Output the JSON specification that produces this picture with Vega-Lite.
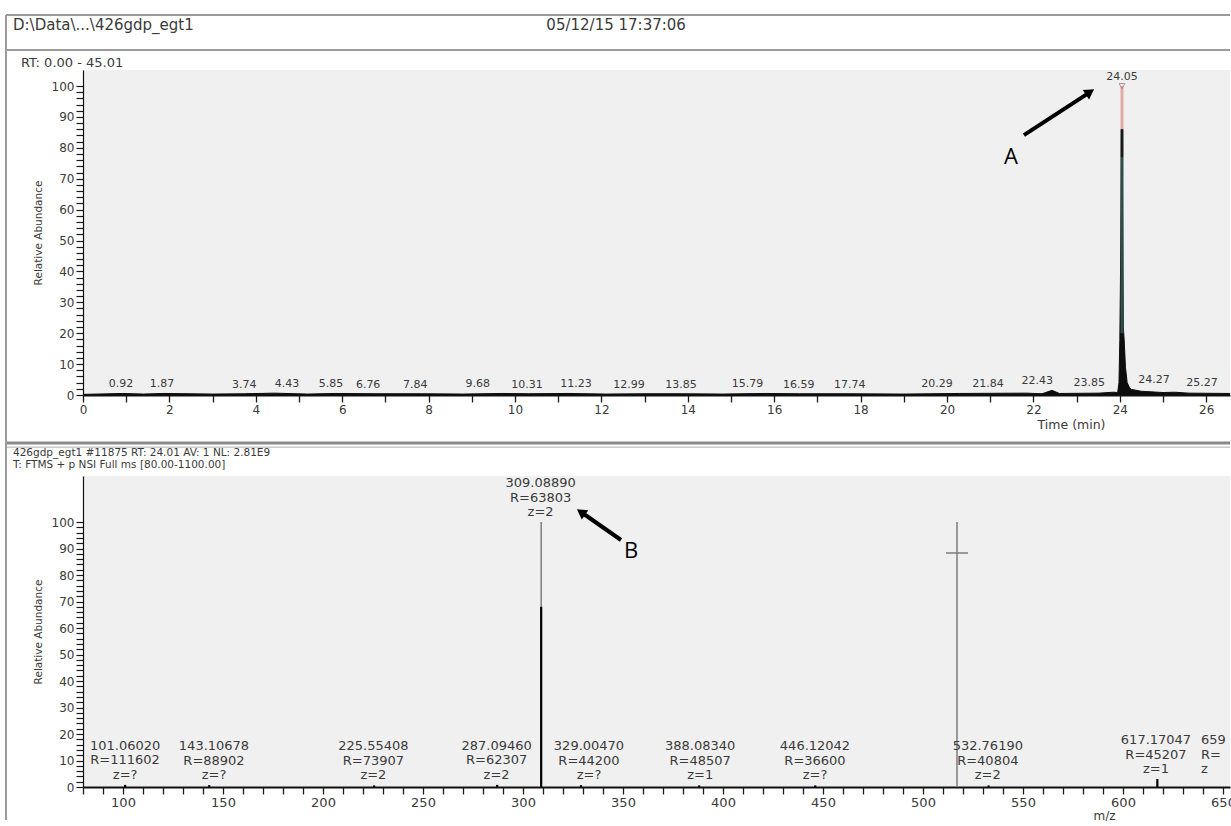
{
  "$schema": "https://vega.github.io/schema/vega-lite/v6.json",
  "usermeta": {"embedOptions": {"actions": false}},
  "background": "white",
  "padding": {"left": 4, "top": 14, "right": -4, "bottom": 0},
  "autosize": {"type": "pad"},
  "bounds": "flush",
  "spacing": 81,
  "config": {
    "view": {"fill": "#f0f0f0", "stroke": null},
    "font": "DejaVu Sans",
    "axis": {"labelFont": "DejaVu Sans", "titleFont": "DejaVu Sans", "labelColor": "#3a3a3a", "titleColor": "#3a3a3a", "titleFontWeight": "normal", "tickColor": "#1a1a1a", "domainColor": "#111111", "grid": false, "labelOverlap": false, "labelFlush": false, "labelBound": false}
  },
  "resolve": {"scale": {"x": "independent", "y": "independent", "color": "independent"}},
  "datasets": {
    "one": [{}],
    "chromatogram": [
      {"time": 0, "abundance": 0.2}, {"time": 0.92, "abundance": 0.5}, {"time": 1.4, "abundance": 0.3}, {"time": 1.87, "abundance": 0.5},
      {"time": 3.0, "abundance": 0.3}, {"time": 3.74, "abundance": 0.4}, {"time": 4.43, "abundance": 0.6}, {"time": 5.2, "abundance": 0.3},
      {"time": 5.85, "abundance": 0.5}, {"time": 6.76, "abundance": 0.4}, {"time": 7.84, "abundance": 0.4}, {"time": 8.8, "abundance": 0.3},
      {"time": 9.68, "abundance": 0.5}, {"time": 10.31, "abundance": 0.4}, {"time": 11.23, "abundance": 0.5}, {"time": 12.1, "abundance": 0.3},
      {"time": 12.99, "abundance": 0.4}, {"time": 13.85, "abundance": 0.4}, {"time": 14.8, "abundance": 0.3}, {"time": 15.79, "abundance": 0.5},
      {"time": 16.59, "abundance": 0.4}, {"time": 17.74, "abundance": 0.4}, {"time": 19.0, "abundance": 0.3}, {"time": 20.29, "abundance": 0.5},
      {"time": 21.84, "abundance": 0.6}, {"time": 22.2, "abundance": 0.4}, {"time": 22.43, "abundance": 1.5}, {"time": 22.6, "abundance": 0.5},
      {"time": 23.5, "abundance": 0.6}, {"time": 23.85, "abundance": 0.9}, {"time": 23.95, "abundance": 0.8}, {"time": 23.98, "abundance": 4},
      {"time": 24.0, "abundance": 18}, {"time": 24.02, "abundance": 45}, {"time": 24.04, "abundance": 88}, {"time": 24.05, "abundance": 100},
      {"time": 24.06, "abundance": 70}, {"time": 24.08, "abundance": 22}, {"time": 24.1, "abundance": 18}, {"time": 24.13, "abundance": 9},
      {"time": 24.17, "abundance": 4}, {"time": 24.22, "abundance": 2.5}, {"time": 24.27, "abundance": 1.8}, {"time": 24.5, "abundance": 1.2},
      {"time": 25.0, "abundance": 0.8}, {"time": 25.27, "abundance": 0.9}, {"time": 25.6, "abundance": 0.6}, {"time": 26.55, "abundance": 0.5}
    ],
    "chromLabels": [
      {"time": 0.92, "labelAt": 0.88, "abundance": 0.5, "label": "0.92"}, {"time": 1.87, "labelAt": 1.83, "abundance": 0.5, "label": "1.87"},
      {"time": 3.74, "labelAt": 3.73, "abundance": 0.4, "label": "3.74"}, {"time": 4.43, "labelAt": 4.72, "abundance": 0.6, "label": "4.43"},
      {"time": 5.85, "labelAt": 5.74, "abundance": 0.5, "label": "5.85"}, {"time": 6.76, "labelAt": 6.6, "abundance": 0.4, "label": "6.76"},
      {"time": 7.84, "labelAt": 7.69, "abundance": 0.4, "label": "7.84"}, {"time": 9.68, "labelAt": 9.14, "abundance": 0.5, "label": "9.68"},
      {"time": 10.31, "labelAt": 10.28, "abundance": 0.4, "label": "10.31"}, {"time": 11.23, "labelAt": 11.41, "abundance": 0.5, "label": "11.23"},
      {"time": 12.99, "labelAt": 12.64, "abundance": 0.4, "label": "12.99"}, {"time": 13.85, "labelAt": 13.84, "abundance": 0.4, "label": "13.85"},
      {"time": 15.79, "labelAt": 15.38, "abundance": 0.5, "label": "15.79"}, {"time": 16.59, "labelAt": 16.57, "abundance": 0.4, "label": "16.59"},
      {"time": 17.74, "labelAt": 17.75, "abundance": 0.4, "label": "17.74"}, {"time": 20.29, "labelAt": 19.77, "abundance": 0.5, "label": "20.29"},
      {"time": 21.84, "labelAt": 20.95, "abundance": 0.6, "label": "21.84"}, {"time": 22.43, "labelAt": 22.09, "abundance": 1.5, "label": "22.43"},
      {"time": 23.85, "labelAt": 23.29, "abundance": 0.9, "label": "23.85"}, {"time": 24.05, "labelAt": 24.05, "abundance": 100, "label": "24.05"},
      {"time": 24.27, "labelAt": 24.79, "abundance": 1.8, "label": "24.27"}, {"time": 25.27, "labelAt": 25.9, "abundance": 0.9, "label": "25.27"}
    ],
    "apexSegments": [
      {"time": 24.05, "lo": 86, "hi": 100, "part": "apex"},
      {"time": 24.05, "lo": 77, "hi": 86, "part": "shoulder"},
      {"time": 24.05, "lo": 20, "hi": 77, "part": "body"}
    ],
    "spectrumProfile": [
      {"mz": 309.0889, "intensity": 100},
      {"mz": 517, "intensity": 100}
    ],
    "spectrumSticks": [
      {"mz": 101.0602, "intensity": 0.8}, {"mz": 143.10678, "intensity": 0.7}, {"mz": 225.55408, "intensity": 0.6},
      {"mz": 287.0946, "intensity": 0.8}, {"mz": 309.0889, "intensity": 68}, {"mz": 329.0047, "intensity": 0.7},
      {"mz": 388.0834, "intensity": 0.6}, {"mz": 446.12042, "intensity": 0.6}, {"mz": 532.7619, "intensity": 0.6},
      {"mz": 617.17047, "intensity": 3}
    ],
    "spectrumLabels": [
      {"mz": 101.0602, "labelAt": 101.06, "anchor": 0.8, "label": "101.06020\nR=111602\nz=?"},
      {"mz": 143.10678, "labelAt": 145.5, "anchor": 0.7, "label": "143.10678\nR=88902\nz=?"},
      {"mz": 225.55408, "labelAt": 225.2, "anchor": 0.6, "label": "225.55408\nR=73907\nz=2"},
      {"mz": 287.0946, "labelAt": 286.8, "anchor": 0.8, "label": "287.09460\nR=62307\nz=2"},
      {"mz": 309.0889, "labelAt": 308.8, "anchor": 100, "label": "309.08890\nR=63803\nz=2"},
      {"mz": 329.0047, "labelAt": 333, "anchor": 0.7, "label": "329.00470\nR=44200\nz=?"},
      {"mz": 388.0834, "labelAt": 388.6, "anchor": 0.6, "label": "388.08340\nR=48507\nz=1"},
      {"mz": 446.12042, "labelAt": 446, "anchor": 0.6, "label": "446.12042\nR=36600\nz=?"},
      {"mz": 532.7619, "labelAt": 532.4, "anchor": 0.6, "label": "532.76190\nR=40804\nz=2"},
      {"mz": 617.17047, "labelAt": 616.5, "anchor": 3, "label": "617.17047\nR=45207\nz=1"}
    ],
    "edgeLabels": [
      {"mz": 639, "anchor": 3, "label": "659\nR=\nz"}
    ]
  },
  "vconcat": [
    {
      "width": 1147,
      "height": 325,
      "layer": [
        {"data": {"name": "chromatogram"}, "mark": {"type": "area", "color": "#0d0d0d", "interpolate": "linear"},
         "encoding": {
           "x": {"field": "time", "type": "quantitative", "scale": {"domain": [0, 26.55], "nice": false, "zero": false},
             "axis": {
               "values": [0,0.5,1,1.5,2,2.5,3,3.5,4,4.5,5,5.5,6,6.5,7,7.5,8,8.5,9,9.5,10,10.5,11,11.5,12,12.5,13,13.5,14,14.5,15,15.5,16,16.5,17,17.5,18,18.5,19,19.5,20,20.5,21,21.5,22,22.5,23,23.5,24,24.5,25,25.5,26,26.5],
               "tickCount": 1000,
               "format": "d",
               "labelExpr": "datum.value % 2 === 0 ? datum.label : ''",
               "tickSize": 7,
               "encode": {"ticks": {"update": {"y2": {"signal": "datum.value % 2 === 0 ? 7 : 4"}}}},
               "tickWidth": 1.3, "domainWidth": 2, "labelFontSize": 12, "labelPadding": 2,
               "title": "Time (min)", "titleFontSize": 12.5, "titleX": 988, "titlePadding": 3
             }},
           "y": {"field": "abundance", "type": "quantitative", "scale": {"domain": [0, 105.2], "nice": false},
             "axis": {
               "values": [0,2,4,6,8,10,12,14,16,18,20,22,24,26,28,30,32,34,36,38,40,42,44,46,48,50,52,54,56,58,60,62,64,66,68,70,72,74,76,78,80,82,84,86,88,90,92,94,96,98,100],
               "tickCount": 1000,
               "format": "d",
               "labelExpr": "datum.value % 10 === 0 ? datum.label : ''",
               "tickSize": 7,
               "encode": {"ticks": {"update": {"x2": {"signal": "datum.value % 10 === 0 ? -7 : -4"}}}},
               "tickWidth": 1.2, "domainWidth": 1.2, "labelFontSize": 12, "labelPadding": 2,
               "title": "Relative Abundance", "titleFontSize": 10.5, "titlePadding": 8
             }}
         }},
        {"data": {"name": "one"}, "mark": {"type": "rule", "color": "#9b9b9b", "strokeWidth": 2},
         "encoding": {"x": {"datum": -1.782, "type": "quantitative"}, "x2": {"datum": 26.55}, "y": {"datum": 122.98, "type": "quantitative"}}},
        {"data": {"name": "one"}, "mark": {"type": "rule", "color": "#9b9b9b", "strokeWidth": 2},
         "encoding": {"x": {"datum": -1.782, "type": "quantitative"}, "x2": {"datum": 26.55}, "y": {"datum": 111.65, "type": "quantitative"}}},
        {"data": {"name": "one"}, "mark": {"type": "rule", "color": "#8a8a8a", "strokeWidth": 3},
         "encoding": {"x": {"datum": -1.782, "type": "quantitative"}, "x2": {"datum": 26.55}, "y": {"datum": -15.53, "type": "quantitative"}}},
        {"data": {"name": "one"}, "mark": {"type": "rule", "color": "#cacaca", "strokeWidth": 1.5},
         "encoding": {"x": {"datum": -1.782, "type": "quantitative"}, "x2": {"datum": 26.55}, "y": {"datum": -16.9, "type": "quantitative"}}},
        {"data": {"name": "one"}, "mark": {"type": "rule", "color": "#9b9b9b", "strokeWidth": 2},
         "encoding": {"x": {"datum": -1.782, "type": "quantitative"}, "y": {"datum": 122.98, "type": "quantitative"}, "y2": {"datum": -137.54}}},
        {"data": {"name": "one"}, "mark": {"type": "text", "text": "D:\\Data\\...\\426gdp_egt1", "align": "left", "baseline": "middle", "fontSize": 15, "font": "DejaVu Sans", "color": "#3a3a3a"},
         "encoding": {"x": {"datum": -1.62, "type": "quantitative"}, "y": {"datum": 119.74, "type": "quantitative"}}},
        {"data": {"name": "one"}, "mark": {"type": "text", "text": "05/12/15 17:37:06", "align": "center", "baseline": "middle", "fontSize": 15, "font": "DejaVu Sans", "color": "#3a3a3a"},
         "encoding": {"x": {"datum": 12.34, "type": "quantitative"}, "y": {"datum": 119.74, "type": "quantitative"}}},
        {"data": {"name": "one"}, "mark": {"type": "text", "text": "RT: 0.00 - 45.01", "align": "left", "baseline": "middle", "fontSize": 13, "font": "DejaVu Sans", "color": "#3a3a3a"},
         "encoding": {"x": {"datum": -1.435, "type": "quantitative"}, "y": {"datum": 107.44, "type": "quantitative"}}},
        {"data": {"name": "chromatogram"}, "mark": {"type": "line", "color": "#0d0d0d", "strokeWidth": 1},
         "encoding": {"x": {"field": "time", "type": "quantitative"}, "y": {"field": "abundance", "type": "quantitative"}}},
        {"data": {"name": "apexSegments"}, "mark": {"type": "rule", "strokeWidth": 3},
         "encoding": {"x": {"field": "time", "type": "quantitative"}, "y": {"field": "lo", "type": "quantitative"}, "y2": {"field": "hi"},
           "color": {"field": "part", "type": "nominal", "scale": {"domain": ["apex", "shoulder", "body"], "range": ["#e2aaa5", "#1a1a1a", "#2e4c4b"]}, "legend": null}}},
        {"data": {"name": "chromLabels"}, "transform": [{"filter": "datum.label === '24.05'"}],
         "mark": {"type": "point", "shape": "triangle-down", "size": 35, "filled": false, "stroke": "#b56a64", "strokeWidth": 1},
         "encoding": {"x": {"field": "time", "type": "quantitative"}, "y": {"field": "abundance", "type": "quantitative"}}},
        {"data": {"name": "chromLabels"}, "mark": {"type": "text", "baseline": "bottom", "dy": -4, "fontSize": 11, "font": "DejaVu Sans", "color": "#3a3a3a"},
         "encoding": {"x": {"field": "labelAt", "type": "quantitative"}, "y": {"field": "abundance", "type": "quantitative"}, "text": {"field": "label"}}},
        {"data": {"name": "one"}, "mark": {"type": "rule", "color": "#000000", "strokeWidth": 4},
         "encoding": {"x": {"datum": 21.78, "type": "quantitative"}, "y": {"datum": 84.14, "type": "quantitative"}, "x2": {"datum": 23.31}, "y2": {"datum": 98.06}}},
        {"data": {"name": "one"}, "mark": {"type": "point", "shape": "triangle-up", "filled": true, "color": "#000000", "opacity": 1, "size": 130, "angle": 56.7},
         "encoding": {"x": {"datum": 23.31, "type": "quantitative"}, "y": {"datum": 98.06, "type": "quantitative"}}},
        {"data": {"name": "one"}, "mark": {"type": "text", "text": "A", "align": "center", "baseline": "middle", "fontSize": 22, "font": "Open Sans", "color": "#000000"},
         "encoding": {"x": {"datum": 21.48, "type": "quantitative"}, "y": {"datum": 77.02, "type": "quantitative"}}}
      ]
    },
    {
      "width": 1147,
      "height": 311,
      "layer": [
        {"data": {"name": "spectrumProfile"}, "mark": {"type": "rule", "color": "#7d7d7d", "strokeWidth": 1.5},
         "encoding": {
           "x": {"field": "mz", "type": "quantitative", "scale": {"domain": [80, 653.5], "nice": false, "zero": false},
             "axis": {
               "values": [80,90,100,110,120,130,140,150,160,170,180,190,200,210,220,230,240,250,260,270,280,290,300,310,320,330,340,350,360,370,380,390,400,410,420,430,440,450,460,470,480,490,500,510,520,530,540,550,560,570,580,590,600,610,620,630,640,650],
               "tickCount": 1000,
               "format": "d",
               "labelExpr": "datum.value % 50 === 0 ? datum.label : ''",
               "tickSize": 7,
               "encode": {"ticks": {"update": {"y2": {"signal": "datum.value % 50 === 0 ? 7 : 4"}}}},
               "tickWidth": 1.3, "domainWidth": 2, "labelFontSize": 13, "labelPadding": 2,
               "title": "m/z", "titleFontSize": 12, "titleX": 1021, "titlePadding": 1
             }},
           "y": {"field": "intensity", "type": "quantitative", "scale": {"domain": [0, 117.36], "nice": false},
             "axis": {
               "values": [0,2,4,6,8,10,12,14,16,18,20,22,24,26,28,30,32,34,36,38,40,42,44,46,48,50,52,54,56,58,60,62,64,66,68,70,72,74,76,78,80,82,84,86,88,90,92,94,96,98,100],
               "tickCount": 1000,
               "format": "d",
               "labelExpr": "datum.value % 10 === 0 ? datum.label : ''",
               "tickSize": 7,
               "encode": {"ticks": {"update": {"x2": {"signal": "datum.value % 10 === 0 ? -7 : -4"}}}},
               "tickWidth": 1.2, "domainWidth": 1.2, "labelFontSize": 12, "labelPadding": 2,
               "title": "Relative Abundance", "titleFontSize": 10.5, "titlePadding": 8
             }},
           "y2": {"datum": 0}
         }},
        {"data": {"name": "one"}, "mark": {"type": "text", "text": "426gdp_egt1 #11875  RT: 24.01  AV: 1  NL: 2.81E9", "align": "left", "baseline": "middle", "fontSize": 10.5, "font": "DejaVu Sans", "color": "#3a3a3a"},
         "encoding": {"x": {"datum": 45, "type": "quantitative"}, "y": {"datum": 126.04, "type": "quantitative"}}},
        {"data": {"name": "one"}, "mark": {"type": "text", "text": "T: FTMS + p NSI Full ms [80.00-1100.00]", "align": "left", "baseline": "middle", "fontSize": 10.5, "font": "DejaVu Sans", "color": "#3a3a3a"},
         "encoding": {"x": {"datum": 45, "type": "quantitative"}, "y": {"datum": 121.5, "type": "quantitative"}}},
        {"data": {"name": "one"}, "mark": {"type": "rule", "color": "#7d7d7d", "strokeWidth": 1.5},
         "encoding": {"x": {"datum": 511.5, "type": "quantitative"}, "x2": {"datum": 522.5}, "y": {"datum": 88.3, "type": "quantitative"}}},
        {"data": {"name": "spectrumSticks"}, "mark": {"type": "rule", "color": "#000000", "strokeWidth": 2.2},
         "encoding": {"x": {"field": "mz", "type": "quantitative"}, "y": {"field": "intensity", "type": "quantitative"}, "y2": {"datum": 0}}},
        {"data": {"name": "spectrumLabels"}, "mark": {"type": "text", "baseline": "bottom", "align": "center", "dy": -32, "lineBreak": "\n", "lineHeight": 14.5, "fontSize": 13, "font": "DejaVu Sans", "color": "#3a3a3a"},
         "encoding": {"x": {"field": "labelAt", "type": "quantitative"}, "y": {"field": "anchor", "type": "quantitative"}, "text": {"field": "label"}}},
        {"data": {"name": "edgeLabels"}, "mark": {"type": "text", "baseline": "bottom", "align": "left", "dy": -32, "lineBreak": "\n", "lineHeight": 14.5, "fontSize": 13, "font": "DejaVu Sans", "color": "#3a3a3a", "clip": true},
         "encoding": {"x": {"field": "mz", "type": "quantitative"}, "y": {"field": "anchor", "type": "quantitative"}, "text": {"field": "label"}}},
        {"data": {"name": "one"}, "mark": {"type": "rule", "color": "#000000", "strokeWidth": 4},
         "encoding": {"x": {"datum": 349, "type": "quantitative"}, "y": {"datum": 93.21, "type": "quantitative"}, "x2": {"datum": 329}, "y2": {"datum": 103.77}}},
        {"data": {"name": "one"}, "mark": {"type": "point", "shape": "triangle-up", "filled": true, "color": "#000000", "opacity": 1, "size": 130, "angle": 305},
         "encoding": {"x": {"datum": 329, "type": "quantitative"}, "y": {"datum": 103.77, "type": "quantitative"}}},
        {"data": {"name": "one"}, "mark": {"type": "text", "text": "B", "align": "center", "baseline": "middle", "fontSize": 22, "font": "Open Sans", "color": "#000000"},
         "encoding": {"x": {"datum": 354, "type": "quantitative"}, "y": {"datum": 89.06, "type": "quantitative"}}}
      ]
    }
  ]
}
